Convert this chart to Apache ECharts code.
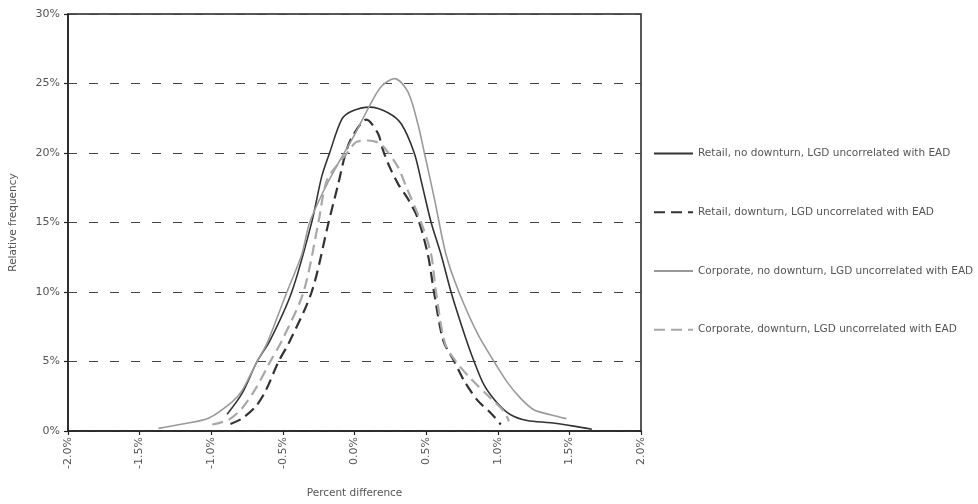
<!DOCTYPE html>
<html>
<head>
<meta charset="utf-8">
<style>html,body{margin:0;padding:0;background:#fff}#c{width:978px;height:504px}</style>
<script src="https://cdn.jsdelivr.net/npm/echarts@6/dist/echarts.min.js"></script>
</head>
<body>
<div id="c"></div>
<script>
// Data: [percent difference (%), relative frequency (%)]
const seriesNames = [
  'Retail, no downturn, LGD uncorrelated with EAD',
  'Retail, downturn, LGD uncorrelated with EAD',
  'Corporate, no downturn, LGD uncorrelated with EAD',
  'Corporate, downturn, LGD uncorrelated with EAD'
];
const retailNoDownturn = [
  [-0.889,1.2],[-0.785,2.7],[-0.68,5.0],[-0.59,6.5],[-0.438,10],[-0.299,15],[-0.229,18.3],
  [-0.174,20.0],[-0.09,22.4],[-0.02,23.0],[0.106,23.3],[0.234,22.9],[0.326,22.1],[0.417,20.0],
  [0.47,17.8],[0.535,15],[0.604,12.7],[0.674,10],[0.766,7.0],[0.835,5.0],[0.905,3.3],
  [0.998,2.0],[1.09,1.17],[1.206,0.75],[1.368,0.59],[1.53,0.35],[1.657,0.12]
];
const retailDownturn = [
  [-0.866,0.51],[-0.785,0.9],[-0.69,1.76],[-0.62,2.9],[-0.53,5.0],[-0.46,6.3],[-0.299,10],
  [-0.181,15],[-0.113,17.8],[-0.067,19.8],[-0.02,21.1],[0.083,22.4],[0.164,21.4],[0.199,20.2],
  [0.245,19.0],[0.303,17.8],[0.373,16.7],[0.442,15.3],[0.512,12.7],[0.555,10],[0.62,6.5],
  [0.697,5.0],[0.766,3.6],[0.859,2.2],[0.951,1.3],[1.021,0.47]
];
const corporateNoDownturn = [
  [-1.368,0.19],[-1.2,0.5],[-1.016,0.94],[-0.854,2.1],[-0.785,2.9],[-0.68,5.0],[-0.611,6.3],
  [-0.472,10],[-0.368,12.7],[-0.313,15],[-0.2,17.6],[-0.1,19.5],[0.0,21.3],[0.095,23.2],
  [0.188,24.8],[0.28,25.35],[0.373,24.4],[0.442,22.1],[0.488,20.0],[0.558,16.7],[0.639,12.7],
  [0.729,10],[0.859,7.0],[0.974,5.0],[1.067,3.5],[1.16,2.35],[1.252,1.53],[1.368,1.17],[1.479,0.89]
];
const corporateDownturn = [
  [-0.993,0.47],[-0.877,0.82],[-0.785,1.64],[-0.69,3.05],[-0.588,5.0],[-0.507,6.5],[-0.356,10],
  [-0.252,15],[-0.194,18.0],[-0.1,19.4],[-0.044,20.1],[0.014,20.8],[0.095,20.9],[0.176,20.7],
  [0.222,20.2],[0.303,19.0],[0.36,17.6],[0.465,15],[0.535,12.7],[0.569,10],[0.632,6.3],
  [0.708,5.0],[0.813,3.75],[0.951,2.35],[1.044,1.4],[1.078,0.7]
];
const xTicks = {min:-2, max:2, interval:0.5};
const yTicks = {min:0, max:30, interval:5};

const styles = [
  {color:'#333333', width:1.6, type:'solid'},
  {color:'#333333', width:2.2, type:[11,6]},
  {color:'#9a9a9a', width:1.6, type:'solid'},
  {color:'#a8a8a8', width:2.2, type:[11,6]}
];
const datasets = [retailNoDownturn, retailDownturn, corporateNoDownturn, corporateDownturn];
const font = 'DejaVu Sans';

const chart = echarts.init(document.getElementById('c'), null, {renderer:'canvas'});
chart.setOption({
  animation:false,
  backgroundColor:'#ffffff',
  grid:{left:65, top:14, width:576, height:426, show:true, borderColor:'#222', borderWidth:1.5, backgroundColor:'transparent'},
  legend:{
    orient:'vertical', left:648, top:143, itemWidth:39, itemHeight:14, itemGap:47.5,
    itemStyle:{opacity:0},
    textStyle:{fontFamily:font, fontSize:10.5, color:'#555'},
    data:seriesNames
  },
  xAxis:{
    type:'value', min:xTicks.min, max:xTicks.max, interval:xTicks.interval,
    name:'Percent difference', nameLocation:'middle', nameGap:57,
    nameTextStyle:{fontFamily:font, fontSize:10.5, color:'#555'},
    axisLine:{show:true, onZero:false, lineStyle:{color:'#222', width:1.5}},
    axisTick:{show:true, length:4, lineStyle:{color:'#222', width:1.2}},
    axisLabel:{rotate:90, margin:6, fontFamily:font, fontSize:11, color:'#555',
      formatter:v=>v.toFixed(1)+'%'},
    splitLine:{show:false}
  },
  yAxis:{
    type:'value', min:yTicks.min, max:yTicks.max, interval:yTicks.interval,
    name:'Relative frequency', nameLocation:'middle', nameGap:49,
    nameTextStyle:{fontFamily:font, fontSize:10.5, color:'#555'},
    axisLine:{show:true, onZero:false, lineStyle:{color:'#222', width:1.5}},
    axisTick:{show:true, length:4, lineStyle:{color:'#222', width:1.2}},
    axisLabel:{margin:8, fontFamily:font, fontSize:11, color:'#555', formatter:v=>v+'%'},
    splitLine:{show:true, lineStyle:{color:'#444', width:1.1, type:[9,12]}}
  },
  series:datasets.map((d,i)=>({
    name:seriesNames[i], type:'line', data:d, showSymbol:false, symbol:'none',
    smooth:0.3,
    lineStyle:{color:styles[i].color, width:styles[i].width, type:styles[i].type},
    itemStyle:{color:styles[i].color}
  }))
});
</script>
</body>
</html>
